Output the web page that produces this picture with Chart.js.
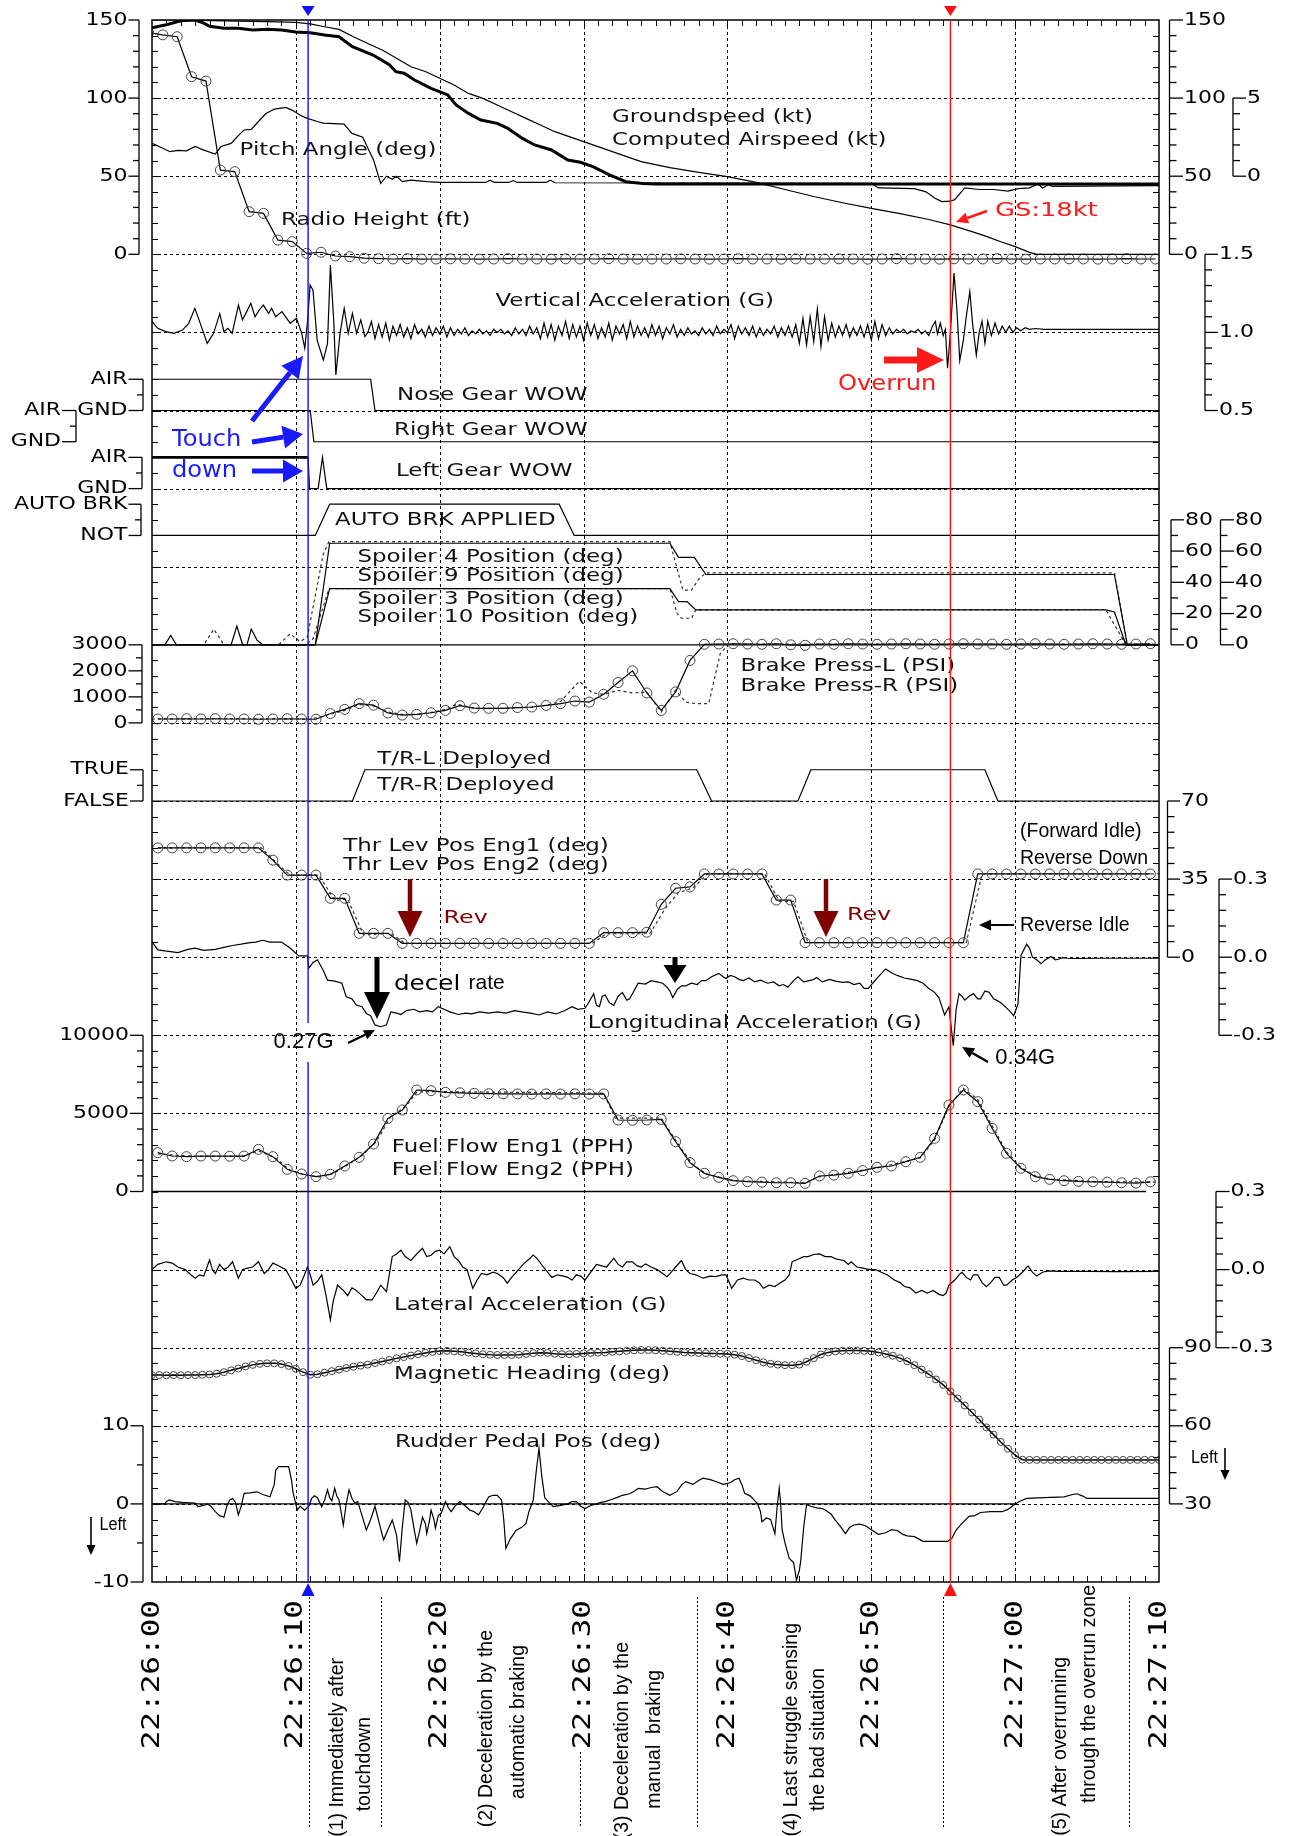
<!DOCTYPE html>
<html>
<head>
<meta charset="utf-8">
<script src="https://cdn.jsdelivr.net/npm/chart.js@4.4.1/dist/chart.umd.min.js"></script>
<style>
  html, body { margin: 0; padding: 0; background: #fff; }
  canvas { display: block; }
</style>
</head>
<body>
<canvas id="fdr" width="1295" height="1836"></canvas>
<script>
// --- Eje de tiempo: segundos desde 22:26:00 ---
const timeTicks = [0, 10, 20, 30, 40, 50, 60, 70];
const timeLabels = ['22:26:00', '22:26:10', '22:26:20', '22:26:30', '22:26:40', '22:26:50', '22:27:00', '22:27:10'];
const touchdownT = 10.85;
const overrunT = 55.5;
const phaseBounds = [10.88, 15.93, 29.78, 37.87, 55.0, 67.9];

// --- Series (t, valor) ---
const groundSpeed = [[0,150],[2,150],[5,149.5],[8,149],[10,148.5],[11,147.5],[12,145.7],[13,144],[14,139.3],[15,135],[16,130.8],[17,125.5],[18,120.1],[19,117],[20,112.7],[21,108.4],[22,103],[23,99.8],[24,95.6],[25,91.3],[26,87],[27,82.8],[28,78.5],[29,75.3],[30,72.1],[31,68.9],[32,65.7],[33,62.5],[34,59.3],[36,55.5],[38,52.5],[40,49.7],[42,46],[44,41.5],[46,37],[48,33],[50,29.4],[52,26],[54,22.3],[55.5,18.8],[57,14.5],[58,11.5],[59,8],[60,4.9],[61,1.2],[61.5,0],[70,0]];
const airspeed = [[0,145],[1,147],[2,149.5],[3,150],[3.6,148],[4,146],[5,144.7],[6,144.7],[7,143.6],[8,144],[9,143.6],[10,142.3],[11,141.9],[12,140.4],[13,139.3],[13.93,132.9],[15.37,127.6],[16.52,121.2],[16.95,116.9],[17.52,115.9],[18.25,111.6],[19.4,106.2],[20.56,102],[21.14,95.6],[22,90.2],[22.86,86],[24,83.8],[24.74,80.6],[25.75,74.2],[26.6,70],[27.77,66.8],[28.9,60.4],[29.78,58.9],[30.65,56.1],[31.8,50.8],[32.95,46.5],[34.1,45.4],[35,45],[70,45]];
const pitch = [[0,2.1],[0.5,1.9],[1.25,1.57],[1.8,1.65],[2.4,1.62],[3.0,1.9],[3.5,1.7],[4.4,1.42],[4.8,1.9],[5.5,2.1],[6.0,2.6],[6.4,2.96],[6.9,3.0],[7.4,3.5],[7.9,4.0],[8.5,4.3],[9.3,4.4],[9.8,4.2],[10.3,3.9],[10.8,3.7],[11.5,3.5],[11.9,3.4],[13.35,3.34],[13.9,2.74],[14.65,2.5],[15.0,1.8],[15.4,1.04],[15.9,-0.46],[16.3,0.0],[16.7,-0.2],[17.0,0.0],[17.4,-0.35],[18.0,-0.25],[19.1,-0.35],[20.0,-0.4],[23.2,-0.4],[23.5,-0.25],[23.8,-0.4],[24.8,-0.4],[25.1,-0.28],[25.4,-0.4],[27.4,-0.4],[27.7,-0.25],[28.0,-0.42],[50.0,-0.45],[50.5,-0.75],[53.0,-0.8],[53.8,-1.0],[54.4,-1.4],[54.9,-1.63],[55.5,-1.6],[55.8,-1.5],[56.5,-0.75],[57.5,-0.85],[58.5,-0.85],[59.5,-0.95],[60.2,-0.8],[61.0,-0.75],[61.6,-0.5],[61.9,-0.75],[62.3,-0.55],[62.6,-0.65],[70,-0.6]];
// Radio height: una muestra por segundo desde t=-0.25
const radioHeight = [142,140.5,139.3,113.7,110.9,53.9,52.9,27.3,26.2,9.1,8.1,0.6,1.3,-1.1,-1.5,-2.5,-2.8,
  -3,-2.8,-3.1,-3,-2.9,-3,-3.1,-3,-2.8,-3,-3,-3.1,-2.9,-3,-3,-2.8,-3,-3.1,-3,-3,-2.9,-3,-3.1,-3,-2.8,-3,-3,-3.1,-2.9,-3,
  -3,-2.9,-3,-3.1,-3,-2.8,-3,-3,-3.1,-2.9,-3,-3,-2.8,-3,-3.1,-3,-3,-2.9,-3,-3.1,-3,-2.8,-3,-3];
const vertAccEarly = [[0,1.07],[0.4,1.026],[0.96,1.005],[1.54,0.994],[2.12,1.015],[2.55,1.058],[2.98,1.154],[3.27,1.08],[3.84,0.93],[4.28,0.994],[4.71,1.12],[5.0,1.005],[5.28,1.026],[5.57,0.994],[6.01,1.175],[6.29,1.08],[6.58,1.133],[6.87,1.186],[7.16,1.1],[7.45,1.143],[7.74,1.175],[8.11,1.122],[8.31,1.154],[8.6,1.1],[9.03,1.133],[9.61,1.058],[10.04,1.09],[10.41,0.994],[10.62,0.898],[10.82,1.08],[10.99,1.303],[11.19,1.27],[11.48,0.951],[11.91,0.823],[12.2,0.93],[12.4,1.431],[12.63,1.08],[12.78,0.727],[13.07,0.994],[13.36,1.154],[13.64,0.994],[13.93,1.122],[14.22,0.994],[14.51,1.08],[14.8,0.973]];
// Aceleracion vertical, tramo a 4 Hz desde t=15.0
const vertAccMid = [1.00,1.07,0.96,1.05,0.97,1.06,0.95,1.04,0.98,1.05,0.97,1.03,0.96,1.05,0.99,1.02,0.97,1.04,0.98,1.03,
  0.99,1.04,0.97,1.03,0.98,1.02,0.99,1.03,0.98,1.01,0.99,1.02,0.99,1.01,0.98,1.02,1.00,1.02,0.99,1.01,
  0.98,1.03,0.99,1.02,0.98,1.04,0.99,1.03,0.96,1.06,0.97,1.05,0.95,1.04,0.98,1.07,0.96,1.05,0.97,1.04,
  0.95,1.06,0.98,1.05,0.96,1.03,0.97,1.06,0.95,1.04,0.99,1.05,0.96,1.07,0.97,1.04,0.98,1.03,0.97,1.05,
  0.98,1.04,0.96,1.03,0.99,1.05,0.97,1.02,0.98,1.03,0.99,1.01,0.98,1.03,0.99,1.02,0.98,1.04,0.99,1.02,
  1.00,1.05,0.96,1.04,0.99,1.03,0.98,1.04,0.97,1.03,0.98,1.02,0.99,1.04,0.97,1.03,0.98,1.04,0.97,1.05,
  0.93,1.09,0.92,1.10,0.94,1.15,0.91,1.10,0.95,1.06,0.97,1.04,0.98,1.05,0.97,1.03,0.98,1.04,0.97,1.05,
  0.95,1.07,0.96,1.05,0.98,1.03,0.99,1.02,1.00,1.02,0.99,1.01,1.00,1.02,0.99,1.01,0.98];
const vertAccLate = [[54.25,1.04],[54.45,1.07],[54.6,0.99],[54.8,1.06],[55.0,0.98],[55.15,1.02],[55.3,0.77],[55.5,1.0],[55.75,1.38],[55.95,1.15],[56.15,0.82],[56.4,0.95],[56.6,1.1],[56.85,1.26],[57.05,1.05],[57.3,0.855],[57.5,1.0],[57.7,1.07],[57.9,0.93],[58.1,1.07],[58.35,0.98],[58.6,1.06],[58.85,0.99],[59.1,1.04],[59.35,1.0],[59.6,1.04],[59.85,1.0],[60.1,1.03],[60.4,1.01],[60.7,1.03],[61.0,1.02],[61.4,1.025],[62,1.02],[70,1.02]];
// Discretas: 1 = AIR / APPLIED / TRUE, 0 = GND / NOT / FALSE
const noseWow = [[0,1],[15.2,1],[15.5,0],[70,0]];
const rightWow = [[0,1],[11.0,1],[11.25,0],[70,0]];
const leftWow = [[0,1],[10.85,1],[10.95,0],[11.55,0],[11.85,1],[12.15,0],[70,0]];
const autoBrake = [[0,0],[11.35,0],[12.35,1],[28.3,1],[29.35,0],[70,0]];
const thrustRev = [[0,0],[13.93,0],[14.8,1],[37.87,1],[38.9,0],[44.9,0],[45.8,1],[57.9,1],[58.8,0],[70,0]];
// Spoilers (deg)
const spoiler4 = [[0,0],[0.9,0],[1.3,6],[1.7,0],[5.5,0],[5.9,12],[6.3,0],[6.6,0],[6.9,10],[7.3,3],[7.7,0],[11.35,0],[12.35,65],[36.0,65],[36.6,56],[37.7,56],[38.5,45],[66.9,45],[67.8,0],[70,0]];
const spoiler9 = [[0,0],[3.6,0],[4.3,10],[5.0,0],[8.8,0],[9.6,7],[10.3,2],[10.8,5],[11.9,58],[12.3,66],[36.0,66],[36.9,35],[37.5,35],[38.0,42],[38.5,46],[66.9,46],[67.8,0],[70,0]];
const spoiler3 = [[0,0],[11.35,0],[12.35,36],[36.0,36],[36.6,27.6],[37.2,27.6],[37.8,22.3],[66.3,22.3],[66.9,21],[67.7,0],[70,0]];
const spoiler10 = [[0,0],[10.7,0],[11.2,4],[12.3,36],[36.0,36],[36.5,20],[36.8,17],[37.5,17],[37.8,22.3],[66.3,22.6],[67.7,0],[70,0]];
// Brake press L: una muestra por segundo desde t=0.4
const brakeL = [150,150,160,150,160,150,150,140,150,160, 150,140,360,520,740,680,380,300,330,390,
  480,660,570,560,560,590,610,670,740,840, 800,1100,1550,2000,1150,480,1190,2400,3020,3030,
  3040,3030,3020,3040,3000,2980,3030,3020,3040,3030, 3020,3030,3040,3030,3020,3030,3040,3030,3030,3020,
  3030,3040,3030,3020,3030,3040,3030,3020,3030,3040];
const brakeR = [[0,150],[3.5,160],[4.5,170],[11,140],[12.4,330],[13.4,480],[14.4,700],[15.4,650],[16.4,420],[17.4,330],[18.4,330],[19.4,400],[20.4,520],[21.2,720],[22.4,560],[24.4,560],[26.4,600],[27.4,680],[28.4,820],[29.7,1600],[30.6,1150],[31.4,1100],[32.4,1250],[33.4,1150],[34.4,1190],[35.4,420],[36.4,1250],[37.1,800],[37.8,740],[38.7,740],[39.5,2660],[40.1,3030],[70,3030]];
// Thrust lever Eng1: una muestra por segundo desde t=0.4
const thrLev1 = [49,49,49,49,49,49,49,49,43.5,36.8, 36.8,36.8,26.4,26.4,10.7,10.7,10.7,6.2,6.2,6.2,
  6.2,6.2,6.2,6.2,6.2,6.2,6.2,6.2,6.2,6.2, 6.2,11,11,11,11.2,23.7,30.9,31.5,37.3,37.3,
  37.3,37.3,37.3,25.6,25.6,6.5,6.5,6.5,6.5,6.5, 6.5,6.5,6.5,6.5,6.5,6.5,6.5,37.3,37.3,37.3,
  37.3,37.3,37.3,37.3,37.3,37.3,37.3,37.3,37.3,37.3];
const thrLev2 = [[0.4,49],[7.6,49],[8.7,42],[9.6,36.8],[11.6,36.8],[12.7,25.5],[13.6,26],[14.7,10],[16.6,10.7],[17.6,6.2],[30.6,6.2],[31.6,10.5],[34.6,10.5],[35.7,22],[36.6,29],[37.6,31],[38.6,37.3],[42.6,37.3],[43.6,25],[44.6,25],[45.6,6.5],[56.6,6.5],[57.7,37.3],[70,37.3]];
const longAcc = [[0,0.06],[0.4,0.028],[0.9,0.024],[1.8,0.018],[2.5,0.03],[3,0.035],[3.6,0.026],[4.4,0.03],[5,0.038],[5.6,0.045],[6.2,0.05],[6.7,0.055],[7.2,0.058],[7.7,0.065],[8.2,0.058],[9,0.058],[9.6,0.035],[10.2,0.005],[10.8,0.005],[10.9,-0.042],[11.2,-0.02],[11.5,-0.01],[11.9,-0.05],[12.2,-0.088],[12.7,-0.092],[13.2,-0.1],[13.5,-0.152],[13.9,-0.16],[14.2,-0.184],[14.6,-0.19],[14.9,-0.216],[15.2,-0.225],[15.5,-0.26],[15.9,-0.267],[16.3,-0.26],[16.6,-0.21],[17.0,-0.215],[17.3,-0.22],[17.7,-0.205],[18.2,-0.2],[18.6,-0.21],[19.1,-0.205],[19.5,-0.21],[19.9,-0.19],[20.3,-0.2],[20.7,-0.21],[21.3,-0.22],[21.8,-0.215],[22.2,-0.218],[22.8,-0.21],[23.4,-0.215],[24,-0.21],[24.6,-0.215],[25.2,-0.205],[25.7,-0.21],[26.3,-0.215],[26.9,-0.222],[27.5,-0.21],[28.1,-0.218],[28.7,-0.205],[29.2,-0.19],[29.6,-0.2],[30.1,-0.196],[30.4,-0.17],[30.7,-0.14],[30.9,-0.185],[31.1,-0.19],[31.3,-0.15],[31.5,-0.145],[31.8,-0.175],[32.1,-0.185],[32.4,-0.15],[32.7,-0.135],[33.0,-0.165],[33.2,-0.16],[33.5,-0.13],[33.8,-0.1],[34.3,-0.103],[34.7,-0.09],[35.1,-0.095],[35.5,-0.1],[35.8,-0.115],[36.0,-0.13],[36.2,-0.155],[36.5,-0.125],[36.8,-0.11],[37.1,-0.11],[37.5,-0.1],[37.9,-0.105],[38.2,-0.09],[38.5,-0.09],[38.9,-0.075],[39.4,-0.062],[39.7,-0.075],[39.9,-0.082],[40.2,-0.07],[40.5,-0.075],[40.8,-0.085],[41.1,-0.09],[41.5,-0.08],[41.9,-0.095],[42.3,-0.088],[42.8,-0.1],[43.2,-0.095],[43.6,-0.11],[43.9,-0.105],[44.2,-0.115],[44.6,-0.09],[44.9,-0.075],[45.3,-0.095],[45.7,-0.09],[46.0,-0.085],[46.2,-0.078],[46.6,-0.095],[47.1,-0.085],[47.5,-0.092],[48.0,-0.097],[48.4,-0.095],[48.8,-0.105],[49.2,-0.1],[49.5,-0.12],[49.8,-0.12],[50.1,-0.1],[50.5,-0.075],[51.0,-0.045],[51.4,-0.06],[51.8,-0.07],[52.3,-0.08],[52.8,-0.085],[53.2,-0.09],[53.6,-0.1],[54.0,-0.12],[54.4,-0.135],[54.7,-0.155],[55.1,-0.222],[55.4,-0.19],[55.7,-0.34],[55.9,-0.2],[56.1,-0.14],[56.3,-0.15],[56.5,-0.165],[56.8,-0.15],[57.1,-0.14],[57.4,-0.16],[57.6,-0.16],[57.9,-0.13],[58.2,-0.135],[58.5,-0.16],[58.7,-0.165],[59.0,-0.175],[59.3,-0.19],[59.6,-0.205],[59.9,-0.225],[60.2,-0.18],[60.4,0.006],[60.8,0.05],[61.0,0.035],[61.2,0.0],[61.5,-0.01],[61.8,-0.025],[62.1,-0.01],[62.5,0.003],[62.8,-0.01],[63.0,-0.008],[63.3,-0.002],[63.6,-0.004],[64,-0.005],[66,-0.004],[68,-0.004],[70,-0.004]];
// Fuel flow Eng1: una muestra por segundo desde t=0.4
const fuelFlow1 = [2486,2273,2230,2270,2270,2260,2270,2700,2230,1419, 1120,950,1100,1632,2187,3040,4684,5218,6498,6455,
  6348,6320,6285,6260,6250,6250,6240,6250,6240,6250, 6240,6250,4577,4560,4577,4620,3190,1846,1163,907,
  693,630,600,560,560,520,992,1050,1163,1334, 1547,1632,1910,2187,3404,5537,6498,5751,4044,2443,
  1483,950,779,690,650,620,600,560,540,620];
const fuelFlow2 = [[0.4,2400],[3,2250],[6.4,2250],[7.4,2600],[8.6,2150],[9.6,1350],[10.6,1080],[11.6,930],[12.6,1150],[13.6,1700],[14.6,2300],[15.6,3200],[16.6,4800],[17.6,5400],[18.4,6350],[19.4,6400],[31.4,6300],[32.2,4700],[35.4,4700],[36.6,3000],[37.6,1700],[38.6,1100],[40.4,700],[45.4,560],[46.4,950],[50.4,1500],[53.4,2150],[54.4,3300],[55.4,5450],[56.4,6600],[57.4,5900],[58.4,4200],[59.4,2550],[60.4,1550],[61.4,1000],[62.4,800],[65.4,640],[69.4,600],[70,600]];
const latAcc = [[0,0.0],[0.4,0.02],[1.0,0.03],[1.4,0.025],[1.8,0.01],[2.3,0.0],[2.7,-0.02],[3.0,-0.033],[3.3,-0.02],[3.6,-0.025],[4.0,0.037],[4.2,0.0],[4.4,-0.015],[4.7,0.02],[5.0,0.0],[5.3,0.01],[5.6,0.03],[6.0,-0.033],[6.3,0.0],[6.6,0.005],[7.0,0.01],[7.4,0.03],[7.8,-0.015],[8.1,0.0],[8.4,0.025],[8.8,0.015],[9.3,0.0],[9.7,-0.04],[10.0,-0.072],[10.3,-0.06],[10.6,-0.02],[10.8,0.01],[11.0,-0.02],[11.2,-0.06],[11.5,-0.045],[11.8,-0.02],[12.1,-0.1],[12.4,-0.193],[12.6,-0.12],[12.9,-0.06],[13.3,-0.08],[13.6,-0.1],[13.9,-0.07],[14.2,-0.08],[14.6,-0.1],[14.9,-0.116],[15.3,-0.116],[15.6,-0.09],[15.9,-0.06],[16.3,-0.085],[16.7,0.05],[17.0,0.06],[17.3,0.075],[17.6,0.05],[18.0,0.035],[18.4,0.06],[18.8,0.082],[19.1,0.05],[19.4,0.055],[19.7,0.07],[20.0,0.075],[20.3,0.06],[20.7,0.088],[21.0,0.05],[21.3,0.035],[21.6,0.01],[21.9,0.0],[22.3,-0.072],[22.6,-0.04],[22.9,-0.015],[23.3,-0.02],[23.7,-0.01],[24.0,-0.015],[24.4,-0.03],[24.7,-0.052],[25.0,-0.03],[25.4,-0.005],[25.8,0.02],[26.2,0.04],[26.5,0.056],[26.8,0.04],[27.2,0.01],[27.5,-0.01],[27.8,-0.03],[28.2,-0.02],[28.6,-0.025],[28.9,-0.03],[29.2,-0.04],[29.5,-0.02],[29.8,-0.025],[30.1,-0.04],[30.5,-0.01],[30.9,0.02],[31.2,0.015],[31.6,0.01],[32.1,0.044],[32.4,0.02],[32.7,0.01],[33.0,0.03],[33.4,0.03],[33.7,0.015],[34.0,0.01],[34.3,0.022],[34.7,0.01],[35.1,0.0],[35.5,-0.015],[35.8,-0.027],[36.1,-0.01],[36.4,0.01],[36.8,0.035],[37.1,0.0],[37.4,-0.015],[37.8,-0.02],[38.3,-0.033],[38.8,-0.025],[39.2,-0.027],[39.6,-0.02],[39.9,-0.02],[40.3,-0.072],[40.7,-0.04],[41.1,-0.033],[41.5,-0.04],[41.9,-0.04],[42.2,-0.05],[42.5,-0.072],[42.9,-0.06],[43.3,-0.065],[43.7,-0.05],[44.0,-0.04],[44.3,-0.02],[44.5,0.03],[44.9,0.04],[45.3,0.05],[45.6,0.05],[46.0,0.058],[46.4,0.06],[46.8,0.05],[47.2,0.05],[47.6,0.04],[48.1,0.035],[48.4,0.02],[48.6,0.03],[49.0,0.01],[49.5,0.005],[49.9,0.0],[50.3,0.0],[50.7,-0.01],[51.1,-0.02],[51.6,-0.04],[52.0,-0.05],[52.3,-0.065],[52.7,-0.07],[53.1,-0.09],[53.5,-0.08],[53.9,-0.09],[54.3,-0.08],[54.7,-0.095],[55.0,-0.1],[55.2,-0.09],[55.4,-0.06],[55.8,-0.04],[56.1,-0.02],[56.3,-0.01],[56.6,-0.03],[56.9,-0.04],[57.1,-0.02],[57.4,-0.02],[57.7,-0.05],[58.0,-0.066],[58.3,-0.05],[58.6,-0.03],[58.9,-0.03],[59.2,-0.06],[59.4,-0.06],[59.8,-0.04],[60.1,-0.03],[60.5,-0.01],[60.9,0.014],[61.2,-0.01],[61.5,-0.025],[61.9,-0.01],[62.3,-0.005],[63,-0.007],[65,-0.007],[67,-0.008],[70,-0.007]];
// Magnetic heading: una muestra cada 0.5 s desde t=0
const heading = [79.5,79.5,79.4,79.5,79.4,79.5,79.5,79.6,79.7,80.0, 80.6,81.3,82.0,82.8,83.4,83.8,84.0,84.0,83.7,83.0,
  81.9,80.6,79.6,79.8,80.4,81.0,81.6,82.2,82.7,83.1, 83.5,84.1,84.7,85.3,85.9,86.4,87.0,87.5,88.0,88.4,
  88.7,88.8,88.6,88.4,88.1,87.8,87.5,87.3,87.2,87.2, 87.2,87.3,87.6,87.9,88.1,88.0,87.7,87.5,87.5,87.6,
  87.8,88.0,88.1,88.2,88.4,88.6,88.8,89.0,89.1,89.1, 89.0,88.8,88.6,88.4,88.2,88.1,88.0,87.9,87.8,87.7,
  87.6,87.3,86.8,86.0,85.2,84.4,83.8,83.5,83.3,83.3, 83.5,84.6,86.0,87.4,88.2,88.6,88.8,88.9,88.9,88.8,
  88.6,88.2,87.6,86.9,86.0,84.8,83.3,81.6,79.8,77.8, 75.7,73.2,70.5,67.8,65.1,62.4,59.4,56.6,53.8,51.2,
  48.7,47.0,46.9,46.9,46.9,46.9,46.9,46.9,46.9,46.9, 46.9,46.9,46.9,46.9,46.9,46.9,46.9,46.9,46.9,46.9, 46.9];
const rudder = [[0,0],[0.9,0],[1.0,0.3],[1.2,0.5],[1.6,0.3],[2.1,0.2],[2.6,0.15],[3.0,0.1],[3.2,-0.35],[3.6,-0.2],[3.85,0.0],[4.1,-0.3],[4.4,-1.0],[4.7,-1.5],[5.0,-1.7],[5.2,-0.3],[5.4,0.5],[5.6,0.7],[5.8,0.2],[6.0,-1.4],[6.2,-0.3],[6.4,1.35],[6.8,1.4],[7.3,1.55],[7.7,1.2],[8.2,0.9],[8.5,2.5],[8.6,4.3],[8.8,4.76],[9.5,4.76],[9.7,3.0],[9.8,1.5],[10.1,-0.8],[10.3,-0.3],[10.6,-0.8],[10.9,-0.3],[11.1,0.7],[11.3,1.05],[11.5,0.8],[11.8,-0.36],[12.0,0.5],[12.2,1.8],[12.35,0.8],[12.5,0.4],[12.7,2.0],[12.85,1.0],[13.0,0.5],[13.3,-2.7],[13.5,0.0],[13.7,1.8],[13.9,0.7],[14.1,0.1],[14.3,0.3],[14.6,-1.5],[14.9,-3.35],[15.2,-2.0],[15.5,-0.3],[15.8,-2.5],[16.1,-4.6],[16.4,-3.3],[16.7,-2.05],[17.0,-4.0],[17.2,-7.4],[17.4,-3.0],[17.6,0.5],[17.8,0.2],[18.0,-0.8],[18.2,-3.0],[18.4,-5.05],[18.6,-3.5],[18.8,-1.7],[19.0,-2.5],[19.1,-3.8],[19.3,-2.0],[19.4,-0.8],[19.6,-2.0],[19.7,-3.1],[19.9,-1.5],[20.1,-1.2],[20.4,0.3],[20.6,-0.5],[20.8,-1.0],[21.1,-0.2],[21.4,0.3],[21.8,-0.3],[22.1,-0.8],[22.4,-1.0],[22.7,-1.4],[23.0,-0.5],[23.4,0.9],[23.7,1.1],[24.0,1.1],[24.3,0.5],[24.45,-2.0],[24.6,-5.7],[24.9,-4.5],[25.3,-3.4],[25.7,-3.0],[26.0,-2.5],[26.2,-1.0],[26.5,0.5],[26.7,4.0],[26.9,7.1],[27.1,3.5],[27.3,0.8],[27.6,0.2],[27.9,-0.36],[28.4,-0.2],[28.9,0.0],[29.2,0.3],[29.5,0.3],[29.8,-0.3],[30.1,-0.6],[30.5,-0.2],[30.9,0.0],[31.2,0.2],[31.5,0.3],[32.0,0.6],[32.3,0.8],[32.7,1.1],[33.2,1.3],[33.5,1.6],[33.8,2.0],[34.3,1.9],[34.7,2.1],[35.1,2.2],[35.5,1.6],[36.0,1.1],[36.5,1.6],[36.8,2.4],[37.1,2.85],[37.6,2.5],[38.0,3.0],[38.3,3.3],[38.8,3.1],[39.3,2.8],[39.7,2.5],[40.2,2.7],[40.5,3.1],[40.8,3.3],[41.0,2.5],[41.2,1.35],[41.6,1.0],[42.1,0.0],[42.3,-1.0],[42.4,-2.3],[42.7,-1.8],[43.0,-2.0],[43.3,-3.8],[43.45,-0.5],[43.6,2.0],[43.7,0.0],[43.8,-3.3],[44.0,-5.0],[44.3,-6.97],[44.6,-7.5],[44.8,-9.75],[45.0,-8.5],[45.1,-7.2],[45.3,-3.0],[45.5,-0.1],[45.8,-0.3],[46.2,-0.5],[46.6,-0.6],[46.9,-0.9],[47.2,-1.3],[47.5,-2.07],[47.9,-3.0],[48.2,-3.8],[48.5,-3.0],[48.8,-2.7],[49.2,-2.6],[49.6,-2.8],[50.0,-3.3],[50.5,-3.9],[51.0,-3.7],[51.4,-3.3],[51.8,-3.4],[52.2,-3.9],[52.5,-4.1],[53.0,-4.2],[53.6,-4.8],[54.5,-4.8],[55.3,-4.8],[55.6,-4.4],[55.9,-3.35],[56.3,-2.5],[56.8,-1.6],[57.2,-1.5],[57.6,-1.1],[58.3,-1.0],[59.1,-1.0],[59.5,-0.7],[59.9,-0.15],[60.3,0.3],[60.8,0.7],[62.0,0.8],[63.4,0.9],[64.0,1.2],[64.3,1.3],[64.7,1.0],[65.0,0.7],[70,0.7]];

// --- Escalas de cada panel (ticks de los ejes) ---
const leftAxes = [
  { id: 'gs', x: 139, x0: 128.5, ticks: [150, 100, 50, 0], minor: 10 },
  { id: 'nose', x: 143, x0: 128.5, ticks: [1, 0], labels: ['AIR', 'GND'], minor: 0.5 },
  { id: 'rgear', x: 76, x0: 62, ticks: [1, 0], labels: ['AIR', 'GND'], minor: 0.5 },
  { id: 'lgear', x: 142, x0: 128.5, ticks: [1, 0], labels: ['AIR', 'GND'], minor: 0.5 },
  { id: 'abrk', x: 141, x0: 128.5, ticks: [1, 0], labels: ['AUTO BRK', 'NOT'], minor: 0.5 },
  { id: 'brk', x: 142, x0: 128.5, ticks: [3000, 2000, 1000, 0], minor: 500 },
  { id: 'tr', x: 143, x0: 130, ticks: [1, 0], labels: ['TRUE', 'FALSE'], minor: 0.5 },
  { id: 'fuel', x: 143, x0: 130, ticks: [10000, 5000, 0], minor: 1000 },
  { id: 'rud', x: 143, x0: 130.5, ticks: [10, 0, -10], minor: 5 }
];
const rightAxes = [
  { id: 'gs', x: 1169.5, x1: 1183, ticks: [150, 100, 50, 0], minor: 10 },
  { id: 'pitch', x: 1233, x1: 1246, ticks: [5, 0], minor: 1 },
  { id: 'va', x: 1205, x1: 1218, ticks: [1.5, 1.0, 0.5], labels: ['1.5', '1.0', '0.5'], minor: 0.1 },
  { id: 'spl', x: 1171, x1: 1184, ticks: [80, 60, 40, 20, 0], minor: 10 },
  { id: 'spl', x: 1220.5, x1: 1234, ticks: [80, 60, 40, 20, 0], minor: 10 },
  { id: 'thr', x: 1167.5, x1: 1180, ticks: [70, 35, 0], minor: 7 },
  { id: 'lon', x: 1219, x1: 1232, ticks: [0.3, 0, -0.3], labels: ['0.3', '0.0', '-0.3'], minor: 0.06 },
  { id: 'lat', x: 1216, x1: 1229.5, ticks: [0.3, 0, -0.3], labels: ['0.3', '0.0', '-0.3'], minor: 0.06 },
  { id: 'hdg', x: 1169.5, x1: 1183, ticks: [90, 60, 30], minor: 6 }
];
const gridDotted = [['gs',100],['gs',50],['gs',0],['va',1.0],['nose',0],['lgear',0],['spl',50],['brk',0],['tr',0],['thr',35],['thr',0],['lon',-0.3],['fuel',5000],['lat',0],['hdg',90],['hdg',60],['hdg',30]];
const gridSolid = [['spl',0,0,70],['fuel',0,0,69.1],['rud',0,0,60]];

// Etiquetas de las series [texto, x, y]
const seriesLabels = [
  ['Groundspeed (kt)', 612, 117], ['Computed Airspeed (kt)', 612, 140.5],
  ['Pitch Angle (deg)', 239.6, 150.7], ['Radio Height (ft)', 281, 220],
  ['Vertical Acceleration (G)', 495.4, 301],
  ['Nose Gear WOW', 397, 395.7], ['Right Gear WOW', 394, 430.7], ['Left Gear WOW', 396, 471.7],
  ['AUTO BRK APPLIED', 335, 520.7],
  ['Spoiler 4 Position (deg)', 357.4, 557.3], ['Spoiler 9 Position (deg)', 357.4, 576],
  ['Spoiler 3 Position (deg)', 357.4, 599.3], ['Spoiler 10 Position (deg)', 357.4, 617.3],
  ['Brake Press-L (PSI)', 740.4, 666], ['Brake Press-R (PSI)', 740.4, 686.7],
  ['T/R-L Deployed', 377.3, 759.3], ['T/R-R Deployed', 377.3, 785],
  ['Thr Lev Pos Eng1 (deg)', 343.3, 846.7], ['Thr Lev Pos Eng2 (deg)', 343.3, 865],
  ['Longitudinal Acceleration (G)', 587.8, 1023.4],
  ['Fuel Flow Eng1 (PPH)', 391.8, 1147.7], ['Fuel Flow Eng2 (PPH)', 391.8, 1170],
  ['Lateral Acceleration (G)', 393.9, 1305.7],
  ['Magnetic Heading (deg)', 393.9, 1374.3], ['Rudder Pedal Pos (deg)', 395, 1442.7]
];
// Fases (texto rotado) [lineas, x de cada linea, y superior de cada linea]
const phaseNotes = [
  [['(1) Immediately after', 'touchdown'], [338, 365], [1658, 1717]],
  [['(2) Deceleration by the', 'automatic braking'], [487, 519], [1630, 1645]],
  [['(3) Deceleration by the', 'manual  braking'], [623, 655], [1642, 1670]],
  [['(4) Last struggle sensing', 'the bad situation'], [792, 819], [1623, 1668]],
  [['(5) After overrunning', 'through the overrun zone'], [1061, 1090], [1657, 1585]]
];

// --- Utilidades ---
function band(vA, uA, vB, uB) {
  // valor vA en la unidad uA y vB en uB; la rejilla tiene 100 unidades de arriba a abajo
  const k = (vB - vA) / (uB - uA);
  return { min: vA + k * (100 - uA), max: vA - k * uA };
}
const pairs = (t0, step, vals) => vals.map((v, i) => [t0 + i * step, v]);
const pts = arr => arr.map(p => ({ x: p[0], y: p[1] }));

function seg(ctx, x1, y1, x2, y2) { ctx.beginPath(); ctx.moveTo(x1, y1); ctx.lineTo(x2, y2); ctx.stroke(); }
function text(ctx, s, x, y, o) {
  ctx.save();
  ctx.translate(x, y);
  if (o.rot) ctx.rotate(o.rot);
  ctx.scale(o.sx || 1, 1);
  ctx.font = o.font;
  ctx.fillStyle = o.color || '#000';
  ctx.textAlign = o.align || 'left';
  ctx.textBaseline = o.base || 'middle';
  ctx.fillText(s, 0, 0);
  ctx.restore();
}
function arrow(ctx, x1, y1, x2, y2, o) {
  const a = Math.atan2(y2 - y1, x2 - x1), hl = o.head, hw = o.headW || o.head;
  const bx = x2 - hl * Math.cos(a), by = y2 - hl * Math.sin(a);
  ctx.save();
  ctx.setLineDash([]);
  ctx.strokeStyle = ctx.fillStyle = o.color || '#000';
  ctx.lineWidth = o.width;
  seg(ctx, x1, y1, bx, by);
  ctx.beginPath();
  ctx.moveTo(x2, y2);
  ctx.lineTo(bx + hw / 2 * Math.sin(a), by - hw / 2 * Math.cos(a));
  ctx.lineTo(bx - hw / 2 * Math.sin(a), by + hw / 2 * Math.cos(a));
  ctx.closePath();
  ctx.fill();
  ctx.restore();
}
function tri(ctx, x, yTip, yBase, half, color) {
  ctx.fillStyle = color;
  ctx.beginPath(); ctx.moveTo(x, yTip); ctx.lineTo(x - half, yBase); ctx.lineTo(x + half, yBase); ctx.closePath(); ctx.fill();
}
function minorValues(ax) {
  const lo = Math.min(...ax.ticks), hi = Math.max(...ax.ticks);
  const n = Math.round((hi - lo) / ax.minor), out = [];
  for (let i = 1; i < n; i++) {
    const v = lo + i * ax.minor;
    if (!ax.ticks.some(t => Math.abs(t - v) < ax.minor / 10)) out.push(v);
  }
  return out;
}

const AX_FONT = '18px "DejaVu Sans"';
const LBL_FONT = '17.5px "DejaVu Sans"';

const fdrPlugin = {
  id: 'fdr',
  beforeDatasetsDraw(chart) {
    const { ctx, chartArea: a, scales: s } = chart;
    ctx.save();
    ctx.strokeStyle = '#000';
    ctx.lineWidth = 1;
    ctx.setLineDash([3, 3]);
    gridDotted.forEach(([id, v]) => { const y = Math.round(s[id].getPixelForValue(v)) + 0.5; seg(ctx, a.left, y, a.right, y); });
    timeTicks.slice(1, -1).forEach(t => { const x = Math.round(s.x.getPixelForValue(t)) + 0.5; seg(ctx, x, a.top, x, a.bottom); });
    ctx.setLineDash([]);
    ctx.lineWidth = 1.3;
    gridSolid.forEach(([id, v, t0, t1]) => { const y = s[id].getPixelForValue(v); seg(ctx, s.x.getPixelForValue(t0), y, s.x.getPixelForValue(t1), y); });
    ctx.restore();
  },
  afterDatasetsDraw(chart) {
    const { ctx, chartArea: a, scales: s } = chart;
    const X = t => s.x.getPixelForValue(t);
    ctx.save();
    ctx.strokeStyle = '#000';
    ctx.lineWidth = 1.5;
    ctx.strokeRect(a.left, a.top, a.right - a.left, a.bottom - a.top);

    // ticks de los bordes
    ctx.lineWidth = 1;
    for (let t = 1; t < 70; t++) { const x = Math.round(X(t)) + 0.5; seg(ctx, x, a.top, x, a.top + 6); seg(ctx, x, a.bottom, x, a.bottom - 6); }
    for (let u = 1; u < 100; u++) { const y = Math.round(s.u.getPixelForValue(u)) + 0.5; seg(ctx, a.left, y, a.left + 6, y); seg(ctx, a.right, y, a.right - 6, y); }

    // ejes en corchete
    ctx.lineWidth = 1.3;
    leftAxes.forEach(ax => {
      const sc = s[ax.id], ys = ax.ticks.map(v => sc.getPixelForValue(v));
      seg(ctx, ax.x, Math.min(...ys), ax.x, Math.max(...ys));
      ys.forEach((y, i) => {
        seg(ctx, ax.x0, y, ax.x, y);
        text(ctx, ax.labels ? ax.labels[i] : String(ax.ticks[i]), ax.x0 - 1, y, { font: AX_FONT, align: 'right', sx: 1.22 });
      });
      minorValues(ax).forEach(v => { const y = sc.getPixelForValue(v); seg(ctx, ax.x - 6, y, ax.x, y); });
    });
    rightAxes.forEach(ax => {
      const sc = s[ax.id], ys = ax.ticks.map(v => sc.getPixelForValue(v));
      seg(ctx, ax.x, Math.min(...ys), ax.x, Math.max(...ys));
      ys.forEach((y, i) => {
        seg(ctx, ax.x, y, ax.x1, y);
        text(ctx, ax.labels ? ax.labels[i] : String(ax.ticks[i]), ax.x1 + 1, y, { font: AX_FONT, sx: 1.22 });
      });
      minorValues(ax).forEach(v => { const y = sc.getPixelForValue(v); seg(ctx, ax.x, y, ax.x + 7, y); });
    });

    // etiquetas de series
    seriesLabels.forEach(([t, x, y]) => text(ctx, t, x, y, { font: LBL_FONT, sx: 1.31, color: '#111' }));

    // lineas de toma de contacto y de salida de pista
    const xb = X(touchdownT), xr = X(overrunT);
    ctx.lineWidth = 1.4;
    ctx.strokeStyle = '#1010ff';
    seg(ctx, xb, a.top, xb, 1023); seg(ctx, xb, 1062, xb, a.bottom);
    tri(ctx, xb, 16, 6, 6.5, '#1010ff'); tri(ctx, xb, a.bottom + 1, a.bottom + 14, 6.5, '#1010ff');
    ctx.strokeStyle = '#ff1010';
    seg(ctx, xr, a.top, xr, a.bottom);
    tri(ctx, xr, 16, 6, 6.5, '#ff1010'); tri(ctx, xr, a.bottom + 1, a.bottom + 14, 6.5, '#ff1010');

    // anotaciones
    const blue = '#1a1aff', red = '#ff1a1a', maroon = '#7f0000';
    arrow(ctx, 252, 421, 303, 356, { width: 5, head: 21, headW: 22, color: blue });
    arrow(ctx, 252, 442, 303, 434, { width: 5, head: 20, headW: 23, color: blue });
    arrow(ctx, 252, 471, 303, 471, { width: 5, head: 20, headW: 23, color: blue });
    text(ctx, 'Touch', 172, 440, { font: '23px "DejaVu Sans"', color: blue, sx: 1.05 });
    text(ctx, 'down', 172, 471, { font: '23px "DejaVu Sans"', color: blue, sx: 1.05 });

    arrow(ctx, 987, 211, 956, 222, { width: 2.5, head: 12, headW: 11, color: red });
    text(ctx, 'GS:18kt', 995, 211, { font: '19.5px "DejaVu Sans"', color: red, sx: 1.32 });
    arrow(ctx, 884, 360, 944, 360, { width: 7, head: 27, headW: 26, color: red });
    text(ctx, 'Overrun', 838, 385, { font: '20.5px "DejaVu Sans"', color: red, sx: 1.18 });

    arrow(ctx, 410, 879, 410, 937, { width: 4.5, head: 26, headW: 25, color: maroon });
    text(ctx, 'Rev', 443.6, 918, { font: '18.3px "DejaVu Sans"', color: maroon, sx: 1.3 });
    arrow(ctx, 826, 879, 826, 937, { width: 4.5, head: 26, headW: 25, color: maroon });
    text(ctx, 'Rev', 847, 915, { font: '18.3px "DejaVu Sans"', color: maroon, sx: 1.3 });

    arrow(ctx, 377, 957, 377, 1019, { width: 5, head: 27, headW: 26 });
    text(ctx, 'decel', 394, 985, { font: '20.5px "DejaVu Sans"', sx: 1.2 });
    text(ctx, 'rate', 468.5, 983, { font: '21px "Liberation Sans"' });
    arrow(ctx, 675, 957, 675, 983, { width: 5, head: 18, headW: 23 });
    text(ctx, '0.27G', 273.6, 1042, { font: '22px "Liberation Sans"' });
    arrow(ctx, 348, 1043, 375, 1030, { width: 2.2, head: 11, headW: 10 });
    text(ctx, '0.34G', 995.3, 1058, { font: '22px "Liberation Sans"' });
    arrow(ctx, 988, 1062, 962, 1047, { width: 2.5, head: 12, headW: 11 });

    text(ctx, '(Forward Idle)', 1020, 831.7, { font: '21px "Liberation Sans"', sx: 0.93 });
    text(ctx, 'Reverse Down', 1020, 858, { font: '21px "Liberation Sans"', sx: 0.93 });
    text(ctx, 'Reverse Idle', 1020, 925, { font: '21px "Liberation Sans"', sx: 0.93 });
    arrow(ctx, 1014, 925, 979, 925, { width: 2, head: 12, headW: 11 });

    text(ctx, 'Left', 99.5, 1525, { font: '18px "Liberation Sans"', sx: 0.9 });
    arrow(ctx, 91, 1517, 91, 1555, { width: 1.6, head: 10, headW: 9 });
    text(ctx, 'Left', 1191, 1458, { font: '18px "Liberation Sans"', sx: 0.9 });
    arrow(ctx, 1225, 1448, 1225, 1480, { width: 1.6, head: 10, headW: 9 });

    // etiquetas de tiempo
    timeTicks.forEach((t, i) => text(ctx, timeLabels[i], X(t), 1600, { font: '25px "DejaVu Sans Mono"', align: 'right', rot: -Math.PI / 2, sx: 1.24 }));

    // separadores y descripcion de fases
    ctx.strokeStyle = '#000';
    ctx.lineWidth = 1;
    ctx.setLineDash([2, 2]);
    phaseBounds.forEach((t, i) => { const x = Math.round(X(t)) + 0.5; seg(ctx, x, i === 2 ? 1752 : 1597, x, 1828); });
    ctx.setLineDash([]);
    phaseNotes.forEach(([lines, xs, ys]) => lines.forEach((l, i) =>
      text(ctx, l, xs[i], ys[i], { font: '19.5px "Liberation Sans"', align: 'right', rot: -Math.PI / 2 })));
    ctx.restore();
  }
};

// --- Escalas ---
const panels = {
  gs: band(150, 0, 0, 15), pitch: band(5, 5, 0, 10), va: band(1.5, 15, 0.5, 25),
  nose: band(1, 23, 0, 25), rgear: band(1, 25, 0, 27), lgear: band(1, 28, 0, 30), abrk: band(1, 31, 0, 33),
  spl: band(80, 32, 0, 40), brk: band(3000, 40, 0, 45), tr: band(1, 48, 0, 50),
  thr: band(70, 50, 0, 60), lon: band(0.3, 55, -0.3, 65), fuel: band(10000, 65, 0, 75),
  lat: band(0.3, 75, -0.3, 85), hdg: band(90, 85, 30, 95), rud: band(10, 90, -10, 100)
};
const scales = {
  x: { type: 'linear', min: 0, max: 70, display: false },
  u: { type: 'linear', axis: 'y', position: 'left', min: 0, max: 100, reverse: true, display: false }
};
Object.entries(panels).forEach(([id, r]) => {
  scales[id] = { type: 'linear', axis: 'y', position: 'left', min: r.min, max: r.max, display: false };
});

const solid = { borderColor: '#000', borderWidth: 1.2 };
const dotted = { borderColor: '#333', borderWidth: 1.2, borderDash: [3, 3] };
const circles = { pointRadius: 5, pointBorderWidth: 1, pointBorderColor: '#444', pointBackgroundColor: 'rgba(0,0,0,0)' };
function ds(label, yAxisID, data, opt) {
  return Object.assign({ label, yAxisID, data: pts(data), pointRadius: 0, fill: false, tension: 0 }, solid, opt || {});
}

const datasets = [
  ds('Computed Airspeed (kt)', 'gs', airspeed, { borderWidth: 3 }),
  ds('Groundspeed (kt)', 'gs', groundSpeed),
  ds('Pitch Angle (deg)', 'pitch', pitch),
  ds('Radio Height (ft)', 'gs', pairs(-0.25, 1, radioHeight), circles),
  ds('Vertical Acceleration (G)', 'va', vertAccEarly.concat(pairs(15, 0.25, vertAccMid), vertAccLate)),
  ds('Nose Gear WOW', 'nose', noseWow),
  ds('Right Gear WOW', 'rgear', rightWow),
  ds('Left Gear WOW', 'lgear', leftWow, { segment: { borderWidth: c => (c.p0.parsed.y === 1 && c.p1.parsed.y === 1 ? 2.6 : 1.2) } }),
  ds('AUTO BRK APPLIED', 'abrk', autoBrake),
  ds('Spoiler 4 Position (deg)', 'spl', spoiler4),
  ds('Spoiler 9 Position (deg)', 'spl', spoiler9, dotted),
  ds('Spoiler 3 Position (deg)', 'spl', spoiler3),
  ds('Spoiler 10 Position (deg)', 'spl', spoiler10, dotted),
  ds('Brake Press-L (PSI)', 'brk', pairs(0.4, 1, brakeL), circles),
  ds('Brake Press-R (PSI)', 'brk', brakeR, dotted),
  ds('T/R Deployed', 'tr', thrustRev),
  ds('Thr Lev Pos Eng1 (deg)', 'thr', pairs(0.4, 1, thrLev1), circles),
  ds('Thr Lev Pos Eng2 (deg)', 'thr', thrLev2, dotted),
  ds('Longitudinal Acceleration (G)', 'lon', longAcc),
  ds('Fuel Flow Eng1 (PPH)', 'fuel', pairs(0.4, 1, fuelFlow1), circles),
  ds('Fuel Flow Eng2 (PPH)', 'fuel', fuelFlow2, dotted),
  ds('Lateral Acceleration (G)', 'lat', latAcc),
  ds('Magnetic Heading (deg)', 'hdg', pairs(0, 0.5, heading), Object.assign({}, circles, { pointRadius: 3.5, borderWidth: 1.5 })),
  ds('Rudder Pedal Pos (deg)', 'rud', rudder)
];

new Chart(document.getElementById('fdr'), {
  type: 'line',
  data: { datasets },
  options: {
    responsive: false,
    animation: false,
    devicePixelRatio: 1,
    events: [],
    layout: { padding: { left: 152, right: 136, top: 20, bottom: 254 } },
    plugins: { legend: { display: false }, tooltip: { enabled: false } },
    scales
  },
  plugins: [fdrPlugin]
});
</script>
</body>
</html>
